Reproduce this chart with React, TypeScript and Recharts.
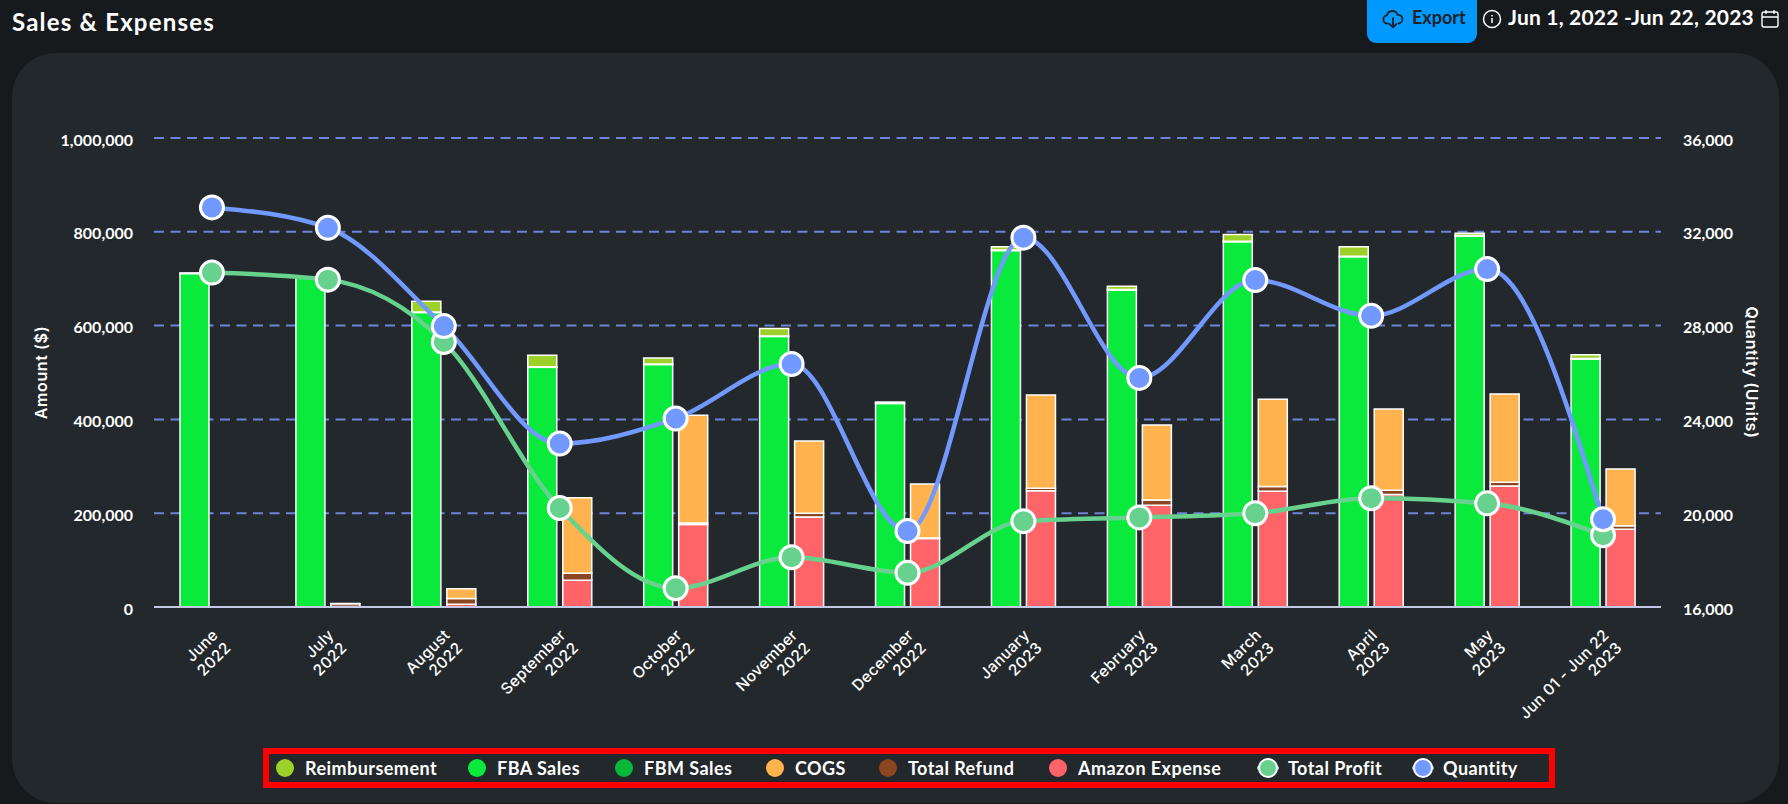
import React from "react";
import { ComposedChart, Bar, Line, XAxis, YAxis, CartesianGrid, Legend } from "recharts";

const months = ["June","July","August","September","October","November","December","January","February","March","April","May","Jun 01 - Jun 22"];
const years = ["2022","2022","2022","2022","2022","2022","2022","2023","2023","2023","2023","2023","2023"];
const fbaSales = [711000,702000,628000,511000,517000,577000,434000,760000,676000,779000,747000,791000,529000];
const fbmSales = [500,500,1000,1000,1000,1000,500,1000,1000,1000,1000,1000,1000];
const reimbursement = [500,500,23000,25000,13000,16000,2500,7000,7000,14000,20000,5000,8000];
const amazonExpense = [0,1000,6000,57000,176000,192000,146000,248000,217000,247000,240000,258000,166000];
const totalRefund = [0,6000,12000,15000,3000,8000,1000,5000,11000,10000,9000,8000,7000];
const cogs = [0,500,21000,161000,230000,154000,115000,199000,160000,186000,173000,188000,121000];
const totalProfit = [713000,698000,565000,211000,40000,106000,73000,183000,191000,200000,232000,221000,153000];
const quantity = [33040,32170,27980,22970,24040,26360,19240,31750,25770,29940,28420,30410,19740];
const amountTicks = [0,200000,400000,600000,800000,1000000];
const quantityTicks = [16000,20000,24000,28000,32000,36000];
const legendOrder = ["Reimbursement","FBA Sales","FBM Sales","COGS","Total Refund","Amazon Expense","Total Profit","Quantity"];
const legendTextWidths = [130,85,89,51,108,148,93,73];

const data = months.map((m, i) => ({
  month: m, year: years[i],
  fba: fbaSales[i], fbm: fbmSales[i], reimb: reimbursement[i],
  exp: amazonExpense[i], refund: totalRefund[i], cogs: cogs[i],
  profit: totalProfit[i], qty: quantity[i],
}));

const FONT = "Lato, sans-serif";
const WIDE = "Inter, sans-serif";
const fmt = (v: number) => v.toLocaleString("en-US");

const XTick = (props: any) => {
  const { x, y, index } = props;
  const px = x + 7, py = y + 21;
  return (
    <text transform={`rotate(-45 ${px} ${py})`} x={px} y={py} textAnchor="end" fill="#fff" fontFamily={WIDE} fontWeight={500} fontSize={15.5} letterSpacing={0.3}>
      <tspan x={px} dy={0}>{months[index]}</tspan>
      <tspan x={px} dy={18}>{years[index]}</tspan>
    </text>
  );
};

const LegendContent = (props: any) => {
  const items = [...(props.payload || [])].sort((a: any, b: any) => legendOrder.indexOf(a.value) - legendOrder.indexOf(b.value));
  return (
    <div style={{ width: 1292, height: 40, boxSizing: "border-box", border: "6px solid #ff0000", display: "flex", alignItems: "center", paddingLeft: 5, fontFamily: FONT, fontWeight: 700, fontSize: 18, letterSpacing: 0.45, color: "#fff" }}>
      {items.map((it: any) => {
        const isLine = it.type === "line";
        return (
          <div key={it.value} style={{ display: "flex", alignItems: "center", marginRight: 31 }}>
            <svg width={22} height={22} style={{ marginRight: 9 }}>
              {isLine && <line x1={0} x2={22} y1={11} y2={11} stroke={it.color} strokeWidth={3} />}
              <circle cx={11} cy={11} r={9} fill={it.color} stroke={isLine ? "#fff" : "none"} strokeWidth={2} />
            </svg>
            <span style={{ display: "inline-block", whiteSpace: "nowrap", width: legendTextWidths[legendOrder.indexOf(it.value)] }}>{it.value}</span>
          </div>
        );
      })}
    </div>
  );
};

const barProps = { stroke: "#fff", strokeWidth: 1.5, barSize: 29, isAnimationActive: false };

export default function App() {
  return (
    <div style={{ position: "absolute", left: 0, top: 0, width: 1788, height: 804, background: "#171a1d", overflow: "hidden", fontFamily: FONT }}>
      <div style={{ position: "absolute", left: 12, top: 53, width: 1767, height: 750, background: "#23282c", borderRadius: 44 }} />
      <div style={{ position: "absolute", left: 12, top: 7, color: "#fff", fontSize: 24, fontWeight: 700, letterSpacing: 1.2 }}>Sales &amp; Expenses</div>
      <div style={{ position: "absolute", left: 1367, top: 0, width: 110, height: 43, background: "#0099ff", borderRadius: "0 0 9px 9px", color: "#1d2329", fontSize: 18, fontWeight: 700 }}>
        <svg width={22} height={22} viewBox="0 0 24 24" style={{ position: "absolute", left: 15, top: 8 }} fill="none" stroke="#1d2329" strokeWidth={2} strokeLinecap="round" strokeLinejoin="round">
          <path d="M7 17H6a4.5 4.5 0 0 1-.6-8.96A6 6 0 0 1 17 7.5a4.5 4.5 0 0 1 1 9.4" />
          <path d="M12 11v10M8.500 17.500 12 21l3.500-3.500" />
        </svg>
        <span style={{ position: "absolute", left: 45, top: 6 }}>Export</span>
      </div>
      <svg width={20} height={20} viewBox="0 0 20 20" style={{ position: "absolute", left: 1482, top: 9 }} fill="none" stroke="#fff" strokeWidth={1.5}>
        <circle cx={10} cy={10} r={8.5} />
        <path d="M10 9v5M10 6v1.400" />
      </svg>
      <div style={{ position: "absolute", left: 1508, top: 4, color: "#fff", fontSize: 21, fontWeight: 700, letterSpacing: 0.2, whiteSpace: "nowrap" }}>Jun 1, 2022 -Jun 22, 2023</div>
      <svg width={20} height={22} viewBox="0 0 20 22" style={{ position: "absolute", left: 1760, top: 8 }} fill="none" stroke="#fff" strokeWidth={1.4}>
        <rect x={2} y={4} width={16} height={15} rx={2} />
        <path d="M2 9h16M6 2v4M14 2v4" />
      </svg>
      <div style={{ position: "absolute", left: 0, top: 0 }}>
        <ComposedChart width={1788} height={804} data={data} barGap={6} margin={{ top: 138, left: 24, right: 17, bottom: 97 }} style={{ fontFamily: FONT }}>
          <CartesianGrid horizontal vertical={false} stroke="#6f83d9" strokeWidth={2} strokeDasharray="10 6.5" yAxisId="left" />
          <XAxis dataKey="month" height={100} interval={0} tickLine={false} tick={<XTick />} axisLine={{ stroke: "#c3c8e6", strokeWidth: 2 }} />
          <YAxis yAxisId="left" width={130} domain={[0, 1000000]} ticks={amountTicks} tickFormatter={fmt} axisLine={false} tickLine={false} tickMargin={15}
            tick={{ fill: "#fff", fontSize: 16, fontWeight: 700, dy: 2 }}
            label={{ value: "Amount ($)", angle: -90, position: "insideLeft", offset: 17, style: { textAnchor: "middle", fill: "#fff", fontFamily: WIDE, fontSize: 16, fontWeight: 600, letterSpacing: 0.6 } }} />
          <YAxis yAxisId="right" orientation="right" width={110} domain={[16000, 36000]} ticks={quantityTicks} tickFormatter={fmt} axisLine={false} tickLine={false} tickMargin={16}
            tick={{ fill: "#fff", fontSize: 16, fontWeight: 700, dy: 2 }}
            label={{ value: "Quantity (Units)", angle: 90, position: "insideRight", offset: 19, style: { textAnchor: "middle", fill: "#fff", fontFamily: WIDE, fontSize: 16, fontWeight: 600, letterSpacing: 0.6 } }} />
          <Legend layout="horizontal" verticalAlign="middle" align="center" content={<LegendContent />}
            wrapperStyle={{ position: "absolute", left: 263, top: 748, width: 1292, height: 40, margin: 0 }} />
          <Bar yAxisId="left" dataKey="fba" name="FBA Sales" stackId="sales" fill="#0aea3c" {...barProps} />
          <Bar yAxisId="left" dataKey="fbm" name="FBM Sales" stackId="sales" fill="#07b83a" {...barProps} />
          <Bar yAxisId="left" dataKey="reimb" name="Reimbursement" stackId="sales" fill="#9dd12a" {...barProps} />
          <Bar yAxisId="left" dataKey="exp" name="Amazon Expense" stackId="costs" fill="#ff6568" {...barProps} />
          <Bar yAxisId="left" dataKey="refund" name="Total Refund" stackId="costs" fill="#8a4522" {...barProps} />
          <Bar yAxisId="left" dataKey="cogs" name="COGS" stackId="costs" fill="#ffb24d" {...barProps} />
          <Line yAxisId="left" dataKey="profit" name="Total Profit" type="monotone" stroke="#66d28e" strokeWidth={4.5} dot={{ r: 11.5, fill: "#66d28e", stroke: "#fff", strokeWidth: 3 }} isAnimationActive={false} />
          <Line yAxisId="right" dataKey="qty" name="Quantity" type="monotone" stroke="#7199ff" strokeWidth={4.5} dot={{ r: 11.5, fill: "#7199ff", stroke: "#fff", strokeWidth: 3 }} isAnimationActive={false} />
        </ComposedChart>
      </div>
    </div>
  );
}
